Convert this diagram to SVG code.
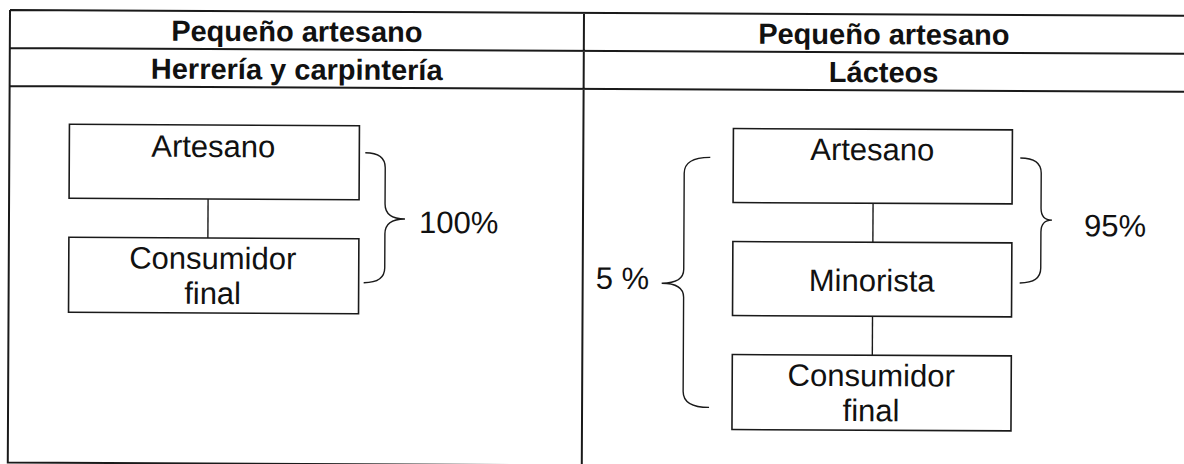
<svg xmlns="http://www.w3.org/2000/svg" width="1184" height="464" viewBox="0 0 1184 464">
<style>
.tbl{fill:none;stroke:#1a1a1a;stroke-width:2}
.box{fill:#fff;stroke:#1a1a1a;stroke-width:1.6}
.con{fill:none;stroke:#1a1a1a;stroke-width:1.4}
.brace{fill:none;stroke:#1a1a1a;stroke-width:1.4}
.h{font-family:"Liberation Sans",Arial,sans-serif;font-weight:bold;font-size:29px;fill:#111;text-anchor:middle}
.t{font-family:"Liberation Sans",Arial,sans-serif;font-size:31px;fill:#111;text-anchor:middle}
.p{font-family:"Liberation Sans",Arial,sans-serif;font-size:31px;fill:#111}
</style>
<rect width="1184" height="464" fill="#fff"/>
<g transform="rotate(0.28 10 10)">
<g id="table">
<path class="tbl" d="M10 10 H1200 M10 48 H1200 M10 86 H1200 M10 10 V462.5 H1200 M584 10 V470"/>
<text class="h" x="297" y="40">Pequeño artesano</text>
<text class="h" x="297" y="78">Herrería y carpintería</text>
<text class="h" x="884" y="40">Pequeño artesano</text>
<text class="h" x="884" y="78">Lácteos</text>
</g>
<g id="connectors">
<line class="con" x1="209" y1="198" x2="209" y2="237"/>
<line class="con" x1="874" y1="199" x2="874" y2="238"/>
<line class="con" x1="874" y1="312" x2="874" y2="351"/>
</g>
<g id="left-artesano">
<rect class="box" x="70" y="124" width="290" height="74"/>
<text class="t" x="214" y="156">Artesano</text>
</g>
<g id="left-consumidor">
<rect class="box" x="70" y="237" width="290" height="75"/>
<text class="t" x="214" y="268">Consumidor</text>
<text class="t" x="214" y="303">final</text>
</g>
<g id="right-artesano">
<rect class="box" x="734" y="125" width="279" height="74"/>
<text class="t" x="873" y="156">Artesano</text>
</g>
<g id="right-minorista">
<rect class="box" x="734" y="238" width="279" height="74"/>
<text class="t" x="873" y="287">Minorista</text>
</g>
<g id="right-consumidor">
<rect class="box" x="734" y="351" width="279" height="75"/>
<text class="t" x="873" y="382">Consumidor</text>
<text class="t" x="873" y="417">final</text>
</g>
<g id="brace-100">
<path class="brace" d="M366 151 Q386 151 386 166 L386 202 Q386 217 406 217 Q386 217 386 232 L386 266 Q386 281 365 281"/>
<text class="p" x="420" y="231">100%</text>
</g>
<g id="brace-95">
<path class="brace" d="M1021 153 Q1042 153 1042 168 L1042 203 Q1042 215 1053 215 Q1042 215 1042 227 L1042 263 Q1042 278 1021 278"/>
<text class="p" x="1085" y="231">95%</text>
</g>
<g id="brace-5">
<path class="brace" d="M711 154 Q685 154 685 170 L685 266 Q685 280 663 280 Q685 280 685 294 L685 388 Q685 404 711 404"/>
<text class="p" x="597" y="286">5 %</text>
</g>
</g>
</svg>
